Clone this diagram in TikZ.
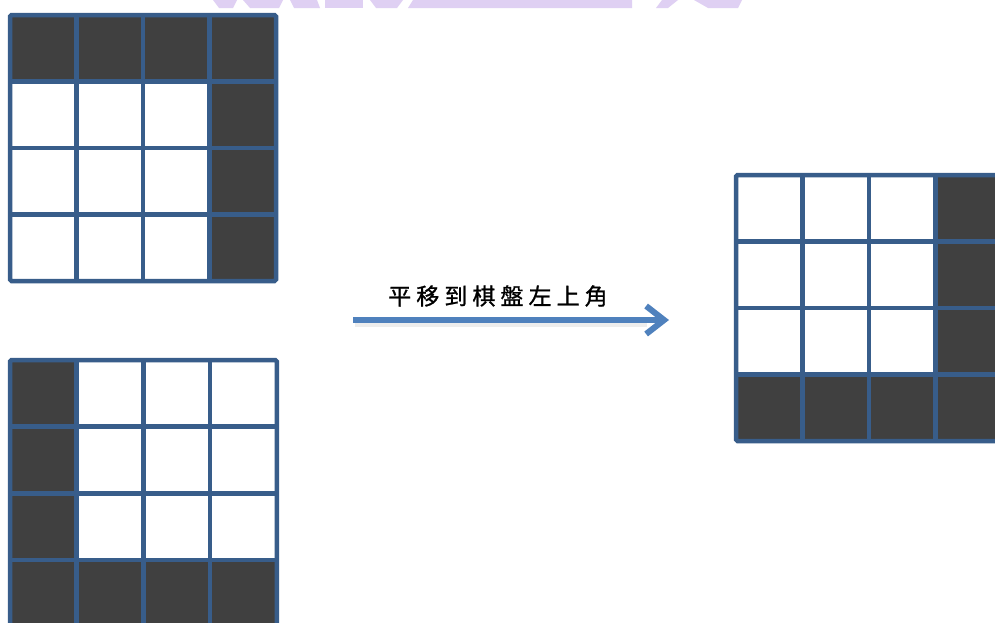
\documentclass[tikz,border=0pt]{standalone}
\usepackage{fontspec}
\newfontfamily\cjk{Noto Sans CJK TC}
\usetikzlibrary{arrows.meta}
\definecolor{gridblue}{HTML}{385D8A}
\definecolor{darkcell}{HTML}{404040}
\definecolor{arrowblue}{HTML}{4F81BD}
\definecolor{wmark}{HTML}{DFD0F3}
\tikzset{
  gridline/.style={draw=gridblue,line width=4.5pt},
  darkcellfill/.style={fill=darkcell},
  wm/.style={fill=wmark},
  arrowline/.style={draw=arrowblue,line width=6pt,-{Straight Barb[length=18pt,width=28pt]}},
  arrowshadow/.style={draw=black!7,line width=7pt},
  labeltext/.style={font=\cjk\fontsize{23}{23}\selectfont\addfontfeature{LetterSpace=22,FakeBold=1}}
}
\newcommand\boardgrid[4]{%
  \foreach \c/\r in {#4}{\fill[darkcellfill] ({#1+\c*#3},{#2+\r*#3}) rectangle ++(#3,#3);}
  \foreach \i in {1,2,3}{
    \draw[gridline] ({#1+\i*#3},#2) -- ++(0,{4*#3});
    \draw[gridline] (#1,{#2+\i*#3}) -- ++({4*#3},0);
  }
  \draw[gridline,rounded corners=1.5pt] (#1,#2) rectangle ++({4*#3},{4*#3});
}
\begin{document}
\begin{tikzpicture}[x=1pt,y=-1pt]
\useasboundingbox (0,0) rectangle (995,622);
\clip (0,0) rectangle (995,622);
\fill[white] (0,0) rectangle (995,622);
% watermark fragments
\fill[wm] (213,0) -- (237,0) -- (233,8) -- (219,8) -- cycle;
\fill[wm] (243,0) -- (283,0) -- (279,8) -- (250,8) -- cycle;
\fill[wm] (290,0) -- (317,0) -- (320,8) -- (294,8) -- cycle;
\fill[wm] (325,0) -- (363,0) -- (363,8) -- (325,8) -- cycle;
\fill[wm] (370,0) -- (403,0) -- (397,8) -- (376,8) -- cycle;
\fill[wm] (413,0) -- (632,0) -- (632,8) -- (408,8) -- cycle;
\fill[wm] (662,0) -- (678,0) -- (668,8) -- (656,8) -- cycle;
\fill[wm] (694,0) -- (742,0) -- (738,8) -- (708,8) -- cycle;
% boards
\boardgrid{10}{15}{66.5}{0/0,1/0,2/0,3/0,3/1,3/2,3/3}
\boardgrid{10}{360}{66.7}{0/0,0/1,0/2,0/3,1/3,2/3,3/3}
\boardgrid{736}{175}{66.5}{3/0,3/1,3/2,0/3,1/3,2/3,3/3}
% arrow and label
\node[labeltext,anchor=center] (lbl) at (498,296) {平移到棋盤左上角};
\coordinate (astart) at (353,320);
\coordinate (aend) at (669,320);
\draw[arrowshadow] ([shift={(2,3)}]astart) -- ([shift={(-22,3)}]aend);
\draw[arrowline] (astart) -- (aend);
\end{tikzpicture}
\end{document}
